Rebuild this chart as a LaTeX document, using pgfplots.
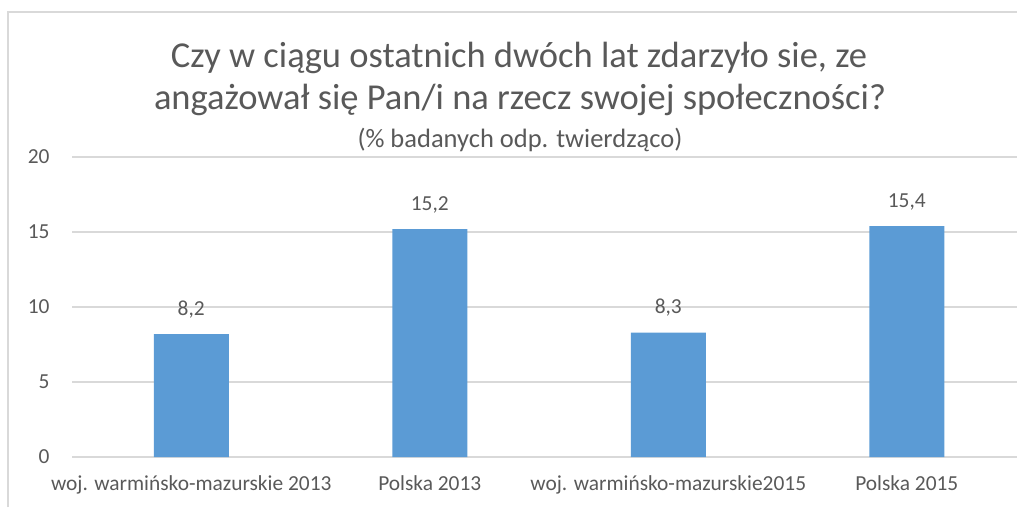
\documentclass[border=0pt]{standalone}
\usepackage{pgfplots}
\pgfplotsset{compat=1.18}
\usepackage{fontspec}
\setmainfont{Carlito}
\definecolor{barblue}{HTML}{5B9BD5}
\definecolor{txt}{HTML}{595959}
\definecolor{gridc}{HTML}{D9D9D9}
\begin{document}
\begin{tikzpicture}[x=1pt,y=1pt]
\useasboundingbox (0,0) rectangle (1017,507);
\draw[gridc, line width=1.5pt] (8,0) -- (8,495) -- (1018,495);
\node[anchor=base, text=txt, font=\fontsize{36.5}{42}\selectfont] at (519,439) {Czy w ciągu ostatnich dwóch lat zdarzyło sie, ze};
\node[anchor=base, text=txt, font=\fontsize{36.5}{42}\selectfont] at (520,397) {angażował się Pan/i na rzecz swojej społeczności?};
\node[anchor=base, text=txt, font=\fontsize{26.5}{30}\selectfont] at (520,359) {(\% badanych odp. twierdząco)};
\begin{axis}[
  at={(72pt,50pt)}, anchor=south west,
  scale only axis, width=945pt, height=300pt,
  xmin=-0.5, xmax=3.462, ymin=0, ymax=20,
  ytick={0,5,10,15,20},
  xtick=data,
  xticklabels={woj. warmińsko-mazurskie 2013, Polska 2013, woj. warmińsko-mazurskie2015, Polska 2015},
  major tick length=0pt,
  ymajorgrids, grid style={gridc, line width=1.3pt},
  x axis line style={gridc, line width=1.3pt},
  y axis line style={draw=none},
  tick label style={text=txt, font=\fontsize{21.4}{25}\selectfont},
  yticklabel style={xshift=-19pt},
  xticklabel style={yshift=-15pt},
  /pgf/number format/assume math mode=true,
  ybar, bar width=75pt, bar shift=0pt,
  nodes near coords,
  point meta=y,
  nodes near coords style={text=txt, font=\fontsize{21.4}{25}\selectfont, anchor=base, yshift=19pt,
    /pgf/number format/.cd, fixed, fixed zerofill, precision=1, use comma, assume math mode=true},
  clip=false,
]
\addplot[fill=barblue, draw=none] coordinates {(0,8.2) (1,15.2) (2,8.3) (3,15.4)};
\end{axis}
\end{tikzpicture}
\end{document}
